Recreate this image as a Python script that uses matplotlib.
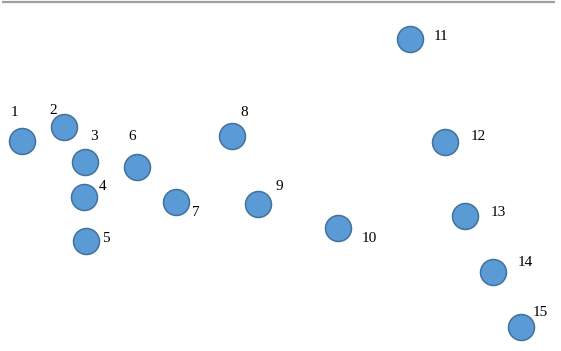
import matplotlib
matplotlib.use("Agg")
import matplotlib.pyplot as plt

labels = ["1", "2", "3", "4", "5", "6", "7", "8", "9", "10", "11", "12", "13", "14", "15"]
x = [22, 64, 85, 84, 86, 137, 176, 232, 258, 338, 410, 445, 465, 493, 521]
y = [141, 127, 162, 197, 241, 167, 202, 136, 204, 228, 39, 142, 216, 272, 327]
label_x = [14, 53, 94, 103, 106, 132, 196, 244, 279, 369, 441, 478, 498, 525, 540]
label_y = [112, 111, 137, 186, 238, 137, 212, 112, 187, 238, 37, 136, 212, 263, 312]

fig = plt.figure(figsize=(5.61, 3.51), dpi=100)
ax = fig.add_axes([0, 0, 1, 1])
ax.set_xlim(0, 561)
ax.set_ylim(351, 0)
ax.axis("off")

ax.plot([2, 555], [2, 2], color="#A0A0A0", lw=1.6, solid_capstyle="butt")

ax.scatter(x, y, s=350, facecolor="#5B9BD5", edgecolor="#41719C", linewidths=1.1, zorder=3)

for t, lx, ly in zip(labels, label_x, label_y):
    ax.text(lx, ly, t, ha="center", va="center", fontsize=11,
            family="Liberation Serif", color="#000000")

fig.savefig("out.png", dpi=100)
